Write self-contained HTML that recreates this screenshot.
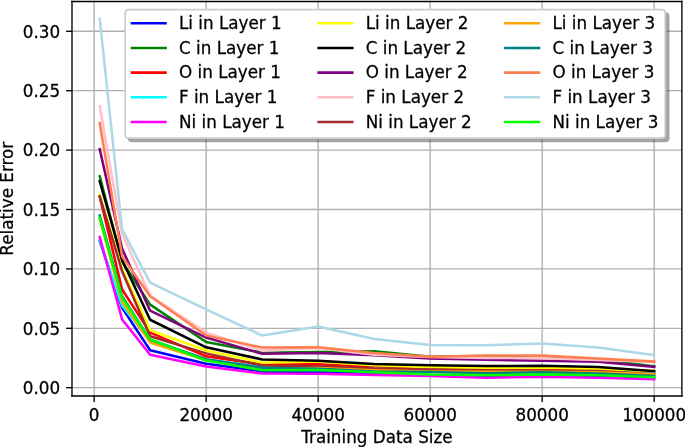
<!DOCTYPE html>
<html><head><meta charset="utf-8"><title>Relative Error vs Training Data Size</title>
<style>html,body{margin:0;padding:0;background:#fff;width:685px;height:447px;overflow:hidden}svg{display:block}text{stroke:#000;stroke-width:0.16px;paint-order:stroke}</style>
</head><body>
<svg width="685" height="447" viewBox="0 0 407.738095 266.071429" version="1.1">
 <defs>
  <style type="text/css">*{stroke-linejoin: round; stroke-linecap: butt}</style>
 </defs>
 <g id="figure_1">
  <g id="patch_1">
   <path d="M 0 266.071429 L 407.738095 266.071429 L 407.738095 0 L 0 0 z
" style="fill: #ffffff"/>
  </g>
  <g id="axes_1">
   <g id="patch_2">
    <path d="M 42.857143 235.714286 L 405.892857 235.714286 L 405.892857 0.892857 L 42.857143 0.892857 z
" style="fill: #ffffff"/>
   </g>
   <g id="matplotlib.axis_1">
    <g id="xtick_1">
     <g id="line2d_1">
      <path d="M 56.025105 235.714286 L 56.025105 0.892857 " clip-path="url(#pc5916f9c31)" style="fill: none; stroke: #b0b0b0; stroke-width: 0.8; stroke-linecap: square"/>
     </g>
     <g id="line2d_2">
      <g>
       <path d="M 0 0 L 0 3.5" transform="translate(56.025105 235.714286)" style="stroke: #000000; stroke-width: 0.8"/>
      </g>
     </g>
     <g id="text_1">
      <text style="font-size: 10px; font-family: 'DejaVu Sans', sans-serif; text-anchor: middle" x="56.025105" y="250.312723">0</text>
     </g>
    </g>
    <g id="xtick_2">
     <g id="line2d_3">
      <path d="M 122.698331 235.714286 L 122.698331 0.892857 " clip-path="url(#pc5916f9c31)" style="fill: none; stroke: #b0b0b0; stroke-width: 0.8; stroke-linecap: square"/>
     </g>
     <g id="line2d_4">
      <g>
       <path d="M 0 0 L 0 3.5" transform="translate(122.698331 235.714286)" style="stroke: #000000; stroke-width: 0.8"/>
      </g>
     </g>
     <g id="text_2">
      <text style="font-size: 10px; font-family: 'DejaVu Sans', sans-serif; text-anchor: middle" x="122.698331" y="250.312723">20000</text>
     </g>
    </g>
    <g id="xtick_3">
     <g id="line2d_5">
      <path d="M 189.371556 235.714286 L 189.371556 0.892857 " clip-path="url(#pc5916f9c31)" style="fill: none; stroke: #b0b0b0; stroke-width: 0.8; stroke-linecap: square"/>
     </g>
     <g id="line2d_6">
      <g>
       <path d="M 0 0 L 0 3.5" transform="translate(189.371556 235.714286)" style="stroke: #000000; stroke-width: 0.8"/>
      </g>
     </g>
     <g id="text_3">
      <text style="font-size: 10px; font-family: 'DejaVu Sans', sans-serif; text-anchor: middle" x="189.371556" y="250.312723">40000</text>
     </g>
    </g>
    <g id="xtick_4">
     <g id="line2d_7">
      <path d="M 256.044782 235.714286 L 256.044782 0.892857 " clip-path="url(#pc5916f9c31)" style="fill: none; stroke: #b0b0b0; stroke-width: 0.8; stroke-linecap: square"/>
     </g>
     <g id="line2d_8">
      <g>
       <path d="M 0 0 L 0 3.5" transform="translate(256.044782 235.714286)" style="stroke: #000000; stroke-width: 0.8"/>
      </g>
     </g>
     <g id="text_4">
      <text style="font-size: 10px; font-family: 'DejaVu Sans', sans-serif; text-anchor: middle" x="256.044782" y="250.312723">60000</text>
     </g>
    </g>
    <g id="xtick_5">
     <g id="line2d_9">
      <path d="M 322.718008 235.714286 L 322.718008 0.892857 " clip-path="url(#pc5916f9c31)" style="fill: none; stroke: #b0b0b0; stroke-width: 0.8; stroke-linecap: square"/>
     </g>
     <g id="line2d_10">
      <g>
       <path d="M 0 0 L 0 3.5" transform="translate(322.718008 235.714286)" style="stroke: #000000; stroke-width: 0.8"/>
      </g>
     </g>
     <g id="text_5">
      <text style="font-size: 10px; font-family: 'DejaVu Sans', sans-serif; text-anchor: middle" x="322.718008" y="250.312723">80000</text>
     </g>
    </g>
    <g id="xtick_6">
     <g id="line2d_11">
      <path d="M 389.391234 235.714286 L 389.391234 0.892857 " clip-path="url(#pc5916f9c31)" style="fill: none; stroke: #b0b0b0; stroke-width: 0.8; stroke-linecap: square"/>
     </g>
     <g id="line2d_12">
      <g>
       <path d="M 0 0 L 0 3.5" transform="translate(389.391234 235.714286)" style="stroke: #000000; stroke-width: 0.8"/>
      </g>
     </g>
     <g id="text_6">
      <text style="font-size: 10px; font-family: 'DejaVu Sans', sans-serif; text-anchor: middle" x="389.391234" y="250.312723">100000</text>
     </g>
    </g>
    <g id="text_7">
     <text style="font-size: 10px; font-family: 'DejaVu Sans', sans-serif; text-anchor: middle" x="224.375" y="263.990848">Training Data Size</text>
    </g>
   </g>
   <g id="matplotlib.axis_2">
    <g id="ytick_1">
     <g id="line2d_13">
      <path d="M 42.857143 230.773423 L 405.892857 230.773423 " clip-path="url(#pc5916f9c31)" style="fill: none; stroke: #b0b0b0; stroke-width: 0.8; stroke-linecap: square"/>
     </g>
     <g id="line2d_14">
      <g>
       <path d="M 0 0 L -3.5 0" transform="translate(42.857143 230.773423)" style="stroke: #000000; stroke-width: 0.8"/>
      </g>
     </g>
     <g id="text_8">
      <text style="font-size: 10px; font-family: 'DejaVu Sans', sans-serif; text-anchor: end" x="35.857143" y="234.572642">0.00</text>
     </g>
    </g>
    <g id="ytick_2">
     <g id="line2d_15">
      <path d="M 42.857143 195.415886 L 405.892857 195.415886 " clip-path="url(#pc5916f9c31)" style="fill: none; stroke: #b0b0b0; stroke-width: 0.8; stroke-linecap: square"/>
     </g>
     <g id="line2d_16">
      <g>
       <path d="M 0 0 L -3.5 0" transform="translate(42.857143 195.415886)" style="stroke: #000000; stroke-width: 0.8"/>
      </g>
     </g>
     <g id="text_9">
      <text style="font-size: 10px; font-family: 'DejaVu Sans', sans-serif; text-anchor: end" x="35.857143" y="199.215105">0.05</text>
     </g>
    </g>
    <g id="ytick_3">
     <g id="line2d_17">
      <path d="M 42.857143 160.058348 L 405.892857 160.058348 " clip-path="url(#pc5916f9c31)" style="fill: none; stroke: #b0b0b0; stroke-width: 0.8; stroke-linecap: square"/>
     </g>
     <g id="line2d_18">
      <g>
       <path d="M 0 0 L -3.5 0" transform="translate(42.857143 160.058348)" style="stroke: #000000; stroke-width: 0.8"/>
      </g>
     </g>
     <g id="text_10">
      <text style="font-size: 10px; font-family: 'DejaVu Sans', sans-serif; text-anchor: end" x="35.857143" y="163.857567">0.10</text>
     </g>
    </g>
    <g id="ytick_4">
     <g id="line2d_19">
      <path d="M 42.857143 124.700811 L 405.892857 124.700811 " clip-path="url(#pc5916f9c31)" style="fill: none; stroke: #b0b0b0; stroke-width: 0.8; stroke-linecap: square"/>
     </g>
     <g id="line2d_20">
      <g>
       <path d="M 0 0 L -3.5 0" transform="translate(42.857143 124.700811)" style="stroke: #000000; stroke-width: 0.8"/>
      </g>
     </g>
     <g id="text_11">
      <text style="font-size: 10px; font-family: 'DejaVu Sans', sans-serif; text-anchor: end" x="35.857143" y="128.500029">0.15</text>
     </g>
    </g>
    <g id="ytick_5">
     <g id="line2d_21">
      <path d="M 42.857143 89.343273 L 405.892857 89.343273 " clip-path="url(#pc5916f9c31)" style="fill: none; stroke: #b0b0b0; stroke-width: 0.8; stroke-linecap: square"/>
     </g>
     <g id="line2d_22">
      <g>
       <path d="M 0 0 L -3.5 0" transform="translate(42.857143 89.343273)" style="stroke: #000000; stroke-width: 0.8"/>
      </g>
     </g>
     <g id="text_12">
      <text style="font-size: 10px; font-family: 'DejaVu Sans', sans-serif; text-anchor: end" x="35.857143" y="93.142492">0.20</text>
     </g>
    </g>
    <g id="ytick_6">
     <g id="line2d_23">
      <path d="M 42.857143 53.985736 L 405.892857 53.985736 " clip-path="url(#pc5916f9c31)" style="fill: none; stroke: #b0b0b0; stroke-width: 0.8; stroke-linecap: square"/>
     </g>
     <g id="line2d_24">
      <g>
       <path d="M 0 0 L -3.5 0" transform="translate(42.857143 53.985736)" style="stroke: #000000; stroke-width: 0.8"/>
      </g>
     </g>
     <g id="text_13">
      <text style="font-size: 10px; font-family: 'DejaVu Sans', sans-serif; text-anchor: end" x="35.857143" y="57.784954">0.25</text>
     </g>
    </g>
    <g id="ytick_7">
     <g id="line2d_25">
      <path d="M 42.857143 18.628198 L 405.892857 18.628198 " clip-path="url(#pc5916f9c31)" style="fill: none; stroke: #b0b0b0; stroke-width: 0.8; stroke-linecap: square"/>
     </g>
     <g id="line2d_26">
      <g>
       <path d="M 0 0 L -3.5 0" transform="translate(42.857143 18.628198)" style="stroke: #000000; stroke-width: 0.8"/>
      </g>
     </g>
     <g id="text_14">
      <text style="font-size: 10px; font-family: 'DejaVu Sans', sans-serif; text-anchor: end" x="35.857143" y="22.427417">0.30</text>
     </g>
    </g>
    <g id="text_15">
     <text style="font-size: 10px; font-family: 'DejaVu Sans', sans-serif; text-anchor: middle" x="7.51183" y="118.303571" transform="rotate(-90 7.51183 118.303571)">Relative Error</text>
    </g>
   </g>
   <g id="line2d_27">
    <path d="M 59.358766 143.440306 L 72.693411 183.252893 L 89.361718 208.498175 L 122.698331 216.488978 L 156.034944 221.085458 L 189.371556 221.651179 L 222.708169 222.49976 L 256.044782 223.419056 L 289.381395 224.267637 L 322.718008 223.772631 L 356.054621 224.338352 L 389.391234 225.045502 " clip-path="url(#pc5916f9c31)" style="fill: none; stroke: #0000ff; stroke-width: 1.5; stroke-linecap: square"/>
   </g>
   <g id="line2d_28">
    <path d="M 59.358766 104.90059 L 72.693411 155.815444 L 89.361718 181.343586 L 122.698331 203.548119 L 156.034944 209.912476 L 189.371556 209.558901 L 222.708169 209.13461 L 256.044782 212.316789 L 289.381395 211.892498 L 322.718008 212.175359 L 356.054621 213.87252 L 389.391234 218.04471 " clip-path="url(#pc5916f9c31)" style="fill: none; stroke: #008000; stroke-width: 1.5; stroke-linecap: square"/>
   </g>
   <g id="line2d_29">
    <path d="M 59.358766 116.922152 L 72.693411 172.292056 L 89.361718 197.961629 L 122.698331 212.104644 L 156.034944 216.983984 L 189.371556 216.842554 L 222.708169 218.539715 L 256.044782 219.529726 L 289.381395 220.166162 L 322.718008 220.236877 L 356.054621 220.590453 L 389.391234 222.287614 " clip-path="url(#pc5916f9c31)" style="fill: none; stroke: #ff0000; stroke-width: 1.5; stroke-linecap: square"/>
   </g>
   <g id="line2d_30">
    <path d="M 59.358766 143.08673 L 72.693411 181.980022 L 89.361718 202.840969 L 122.698331 214.155381 L 156.034944 218.256855 L 189.371556 219.105436 L 222.708169 219.459011 L 256.044782 220.095447 L 289.381395 221.014743 L 322.718008 221.085458 L 356.054621 221.297603 L 389.391234 222.004754 " clip-path="url(#pc5916f9c31)" style="fill: none; stroke: #00ffff; stroke-width: 1.5; stroke-linecap: square"/>
   </g>
   <g id="line2d_31">
    <path d="M 59.358766 141.106708 L 72.693411 190.18297 L 89.361718 211.114633 L 122.698331 218.18614 L 156.034944 222.287614 L 189.371556 222.429045 L 222.708169 223.136195 L 256.044782 223.843346 L 289.381395 224.833357 L 322.718008 224.196921 L 356.054621 224.833357 L 389.391234 225.681938 " clip-path="url(#pc5916f9c31)" style="fill: none; stroke: #ff00ff; stroke-width: 1.5; stroke-linecap: square"/>
   </g>
   <g id="line2d_32">
    <path d="M 59.358766 115.861426 L 72.693411 160.058348 L 89.361718 196.476612 L 122.698331 208.639605 L 156.034944 215.852543 L 189.371556 215.216107 L 222.708169 217.337559 L 256.044782 218.61043 L 289.381395 219.176151 L 322.718008 218.893291 L 356.054621 219.741872 L 389.391234 220.802598 " clip-path="url(#pc5916f9c31)" style="fill: none; stroke: #ffff00; stroke-width: 1.5; stroke-linecap: square"/>
   </g>
   <g id="line2d_33">
    <path d="M 59.358766 107.870623 L 72.693411 154.754718 L 89.361718 190.3244 L 122.698331 206.730298 L 156.034944 213.943236 L 189.371556 214.791816 L 222.708169 216.701123 L 256.044782 217.408274 L 289.381395 217.832565 L 322.718008 217.76185 L 356.054621 218.469 L 389.391234 220.873313 " clip-path="url(#pc5916f9c31)" style="fill: none; stroke: #000000; stroke-width: 1.5; stroke-linecap: square"/>
   </g>
   <g id="line2d_34">
    <path d="M 59.358766 88.777553 L 72.693411 148.036785 L 89.361718 184.950055 L 122.698331 200.931662 L 156.034944 210.548912 L 189.371556 210.053906 L 222.708169 211.397493 L 256.044782 213.44823 L 289.381395 214.155381 L 322.718008 214.721101 L 356.054621 215.286822 L 389.391234 218.398285 " clip-path="url(#pc5916f9c31)" style="fill: none; stroke: #800080; stroke-width: 1.5; stroke-linecap: square"/>
   </g>
   <g id="line2d_35">
    <path d="M 59.358766 63.24941 L 72.693411 139.197401 L 89.361718 175.96924 L 122.698331 197.961629 L 156.034944 208.71032 L 189.371556 207.083873 L 222.708169 211.114633 L 256.044782 212.458219 L 289.381395 213.02394 L 322.718008 213.16537 L 356.054621 214.226096 L 389.391234 215.428252 " clip-path="url(#pc5916f9c31)" style="fill: none; stroke: #ffc0cb; stroke-width: 1.5; stroke-linecap: square"/>
   </g>
   <g id="line2d_36">
    <path d="M 59.358766 116.922152 L 72.693411 161.47265 L 89.361718 200.153796 L 122.698331 210.336767 L 156.034944 217.620419 L 189.371556 218.04471 L 222.708169 219.388296 L 256.044782 219.954017 L 289.381395 220.378307 L 322.718008 220.590453 L 356.054621 220.802598 L 389.391234 222.78262 " clip-path="url(#pc5916f9c31)" style="fill: none; stroke: #a52a2a; stroke-width: 1.5; stroke-linecap: square"/>
   </g>
   <g id="line2d_37">
    <path d="M 59.358766 130.358017 L 72.693411 179.575709 L 89.361718 203.83098 L 122.698331 214.508956 L 156.034944 219.812587 L 189.371556 219.034721 L 222.708169 220.378307 L 256.044782 221.156173 L 289.381395 221.226888 L 322.718008 221.226888 L 356.054621 221.651179 L 389.391234 222.78262 " clip-path="url(#pc5916f9c31)" style="fill: none; stroke: #ffa500; stroke-width: 1.5; stroke-linecap: square"/>
   </g>
   <g id="line2d_38">
    <path d="M 59.358766 128.236564 L 72.693411 176.322816 L 89.361718 202.133818 L 122.698331 213.801805 L 156.034944 218.893291 L 189.371556 219.459011 L 222.708169 221.085458 L 256.044782 221.368318 L 289.381395 222.146184 L 322.718008 221.580464 L 356.054621 222.287614 L 389.391234 223.772631 " clip-path="url(#pc5916f9c31)" style="fill: none; stroke: #008080; stroke-width: 1.5; stroke-linecap: square"/>
   </g>
   <g id="line2d_39">
    <path d="M 59.358766 73.220236 L 72.693411 152.633265 L 89.361718 176.393531 L 122.698331 199.65879 L 156.034944 206.871728 L 189.371556 206.730298 L 222.708169 210.124621 L 256.044782 212.316789 L 289.381395 211.538923 L 322.718008 211.680353 L 356.054621 213.377515 L 389.391234 215.216107 " clip-path="url(#pc5916f9c31)" style="fill: none; stroke: #ff7f50; stroke-width: 1.5; stroke-linecap: square"/>
   </g>
   <g id="line2d_40">
    <path d="M 59.358766 11.27383 L 72.693411 136.580943 L 89.361718 168.261297 L 122.698331 184.172189 L 156.034944 199.729505 L 189.371556 194.35516 L 222.708169 201.780243 L 256.044782 205.386711 L 289.381395 205.528142 L 322.718008 204.3967 L 356.054621 206.801013 L 389.391234 211.326778 " clip-path="url(#pc5916f9c31)" style="fill: none; stroke: #add8e6; stroke-width: 1.5; stroke-linecap: square"/>
   </g>
   <g id="line2d_41">
    <path d="M 59.358766 129.650866 L 72.693411 177.171396 L 89.361718 201.992388 L 122.698331 214.579671 L 156.034944 220.378307 L 189.371556 220.236877 L 222.708169 221.509749 L 256.044782 222.853335 L 289.381395 223.419056 L 322.718008 222.92405 L 356.054621 223.419056 L 389.391234 224.550497 " clip-path="url(#pc5916f9c31)" style="fill: none; stroke: #00ff00; stroke-width: 1.5; stroke-linecap: square"/>
   </g>
   <g id="patch_3">
    <path d="M 42.857143 235.714286 L 42.857143 0.892857 " style="fill: none; stroke: #000000; stroke-width: 0.8; stroke-linejoin: miter; stroke-linecap: square"/>
   </g>
   <g id="patch_4">
    <path d="M 405.892857 235.714286 L 405.892857 0.892857 " style="fill: none; stroke: #000000; stroke-width: 0.8; stroke-linejoin: miter; stroke-linecap: square"/>
   </g>
   <g id="patch_5">
    <path d="M 42.857143 235.714286 L 405.892857 235.714286 " style="fill: none; stroke: #000000; stroke-width: 0.8; stroke-linejoin: miter; stroke-linecap: square"/>
   </g>
   <g id="patch_6">
    <path d="M 42.857143 0.892857 L 405.892857 0.892857 " style="fill: none; stroke: #000000; stroke-width: 0.8; stroke-linejoin: miter; stroke-linecap: square"/>
   </g>
   <g id="legend_1">
    <g id="patch_7">
     <path d="M 78.52381 84.164435 L 395.987872 84.164435 Q 397.987872 84.164435 397.987872 82.164435 L 397.987872 9.77381 Q 397.987872 7.77381 395.987872 7.77381 L 78.52381 7.77381 Q 76.52381 7.77381 76.52381 9.77381 L 76.52381 82.164435 Q 76.52381 84.164435 78.52381 84.164435 z
" style="fill: #4d4d4d; opacity: 0.5; stroke: #4d4d4d; stroke-linejoin: miter"/>
    </g>
    <g id="patch_8">
     <path d="M 76.52381 82.164435 L 393.987872 82.164435 Q 395.987872 82.164435 395.987872 80.164435 L 395.987872 7.77381 Q 395.987872 5.77381 393.987872 5.77381 L 76.52381 5.77381 Q 74.52381 5.77381 74.52381 7.77381 L 74.52381 80.164435 Q 74.52381 82.164435 76.52381 82.164435 z
" style="fill: #ffffff; stroke: #cccccc; stroke-linejoin: miter"/>
    </g>
    <g id="line2d_42">
     <path d="M 78.52381 13.872247 L 88.52381 13.872247 L 98.52381 13.872247 " style="fill: none; stroke: #0000ff; stroke-width: 1.5; stroke-linecap: square"/>
    </g>
    <g id="text_16">
     <text style="font-size: 10px; font-family: 'DejaVu Sans', sans-serif; text-anchor: start" x="106.52381" y="17.372247">Li in Layer 1</text>
    </g>
    <g id="line2d_43">
     <path d="M 78.52381 28.550372 L 88.52381 28.550372 L 98.52381 28.550372 " style="fill: none; stroke: #008000; stroke-width: 1.5; stroke-linecap: square"/>
    </g>
    <g id="text_17">
     <text style="font-size: 10px; font-family: 'DejaVu Sans', sans-serif; text-anchor: start" x="106.52381" y="32.050372">C in Layer 1</text>
    </g>
    <g id="line2d_44">
     <path d="M 78.52381 43.228497 L 88.52381 43.228497 L 98.52381 43.228497 " style="fill: none; stroke: #ff0000; stroke-width: 1.5; stroke-linecap: square"/>
    </g>
    <g id="text_18">
     <text style="font-size: 10px; font-family: 'DejaVu Sans', sans-serif; text-anchor: start" x="106.52381" y="46.728497">O in Layer 1</text>
    </g>
    <g id="line2d_45">
     <path d="M 78.52381 57.906622 L 88.52381 57.906622 L 98.52381 57.906622 " style="fill: none; stroke: #00ffff; stroke-width: 1.5; stroke-linecap: square"/>
    </g>
    <g id="text_19">
     <text style="font-size: 10px; font-family: 'DejaVu Sans', sans-serif; text-anchor: start" x="106.52381" y="61.406622">F in Layer 1</text>
    </g>
    <g id="line2d_46">
     <path d="M 78.52381 72.584747 L 88.52381 72.584747 L 98.52381 72.584747 " style="fill: none; stroke: #ff00ff; stroke-width: 1.5; stroke-linecap: square"/>
    </g>
    <g id="text_20">
     <text style="font-size: 10px; font-family: 'DejaVu Sans', sans-serif; text-anchor: start" x="106.52381" y="76.084747">Ni in Layer 1</text>
    </g>
    <g id="line2d_47">
     <path d="M 189.678497 13.872247 L 199.678497 13.872247 L 209.678497 13.872247 " style="fill: none; stroke: #ffff00; stroke-width: 1.5; stroke-linecap: square"/>
    </g>
    <g id="text_21">
     <text style="font-size: 10px; font-family: 'DejaVu Sans', sans-serif; text-anchor: start" x="217.678497" y="17.372247">Li in Layer 2</text>
    </g>
    <g id="line2d_48">
     <path d="M 189.678497 28.550372 L 199.678497 28.550372 L 209.678497 28.550372 " style="fill: none; stroke: #000000; stroke-width: 1.5; stroke-linecap: square"/>
    </g>
    <g id="text_22">
     <text style="font-size: 10px; font-family: 'DejaVu Sans', sans-serif; text-anchor: start" x="217.678497" y="32.050372">C in Layer 2</text>
    </g>
    <g id="line2d_49">
     <path d="M 189.678497 43.228497 L 199.678497 43.228497 L 209.678497 43.228497 " style="fill: none; stroke: #800080; stroke-width: 1.5; stroke-linecap: square"/>
    </g>
    <g id="text_23">
     <text style="font-size: 10px; font-family: 'DejaVu Sans', sans-serif; text-anchor: start" x="217.678497" y="46.728497">O in Layer 2</text>
    </g>
    <g id="line2d_50">
     <path d="M 189.678497 57.906622 L 199.678497 57.906622 L 209.678497 57.906622 " style="fill: none; stroke: #ffc0cb; stroke-width: 1.5; stroke-linecap: square"/>
    </g>
    <g id="text_24">
     <text style="font-size: 10px; font-family: 'DejaVu Sans', sans-serif; text-anchor: start" x="217.678497" y="61.406622">F in Layer 2</text>
    </g>
    <g id="line2d_51">
     <path d="M 189.678497 72.584747 L 199.678497 72.584747 L 209.678497 72.584747 " style="fill: none; stroke: #a52a2a; stroke-width: 1.5; stroke-linecap: square"/>
    </g>
    <g id="text_25">
     <text style="font-size: 10px; font-family: 'DejaVu Sans', sans-serif; text-anchor: start" x="217.678497" y="76.084747">Ni in Layer 2</text>
    </g>
    <g id="line2d_52">
     <path d="M 300.833185 13.872247 L 310.833185 13.872247 L 320.833185 13.872247 " style="fill: none; stroke: #ffa500; stroke-width: 1.5; stroke-linecap: square"/>
    </g>
    <g id="text_26">
     <text style="font-size: 10px; font-family: 'DejaVu Sans', sans-serif; text-anchor: start" x="328.833185" y="17.372247">Li in Layer 3</text>
    </g>
    <g id="line2d_53">
     <path d="M 300.833185 28.550372 L 310.833185 28.550372 L 320.833185 28.550372 " style="fill: none; stroke: #008080; stroke-width: 1.5; stroke-linecap: square"/>
    </g>
    <g id="text_27">
     <text style="font-size: 10px; font-family: 'DejaVu Sans', sans-serif; text-anchor: start" x="328.833185" y="32.050372">C in Layer 3</text>
    </g>
    <g id="line2d_54">
     <path d="M 300.833185 43.228497 L 310.833185 43.228497 L 320.833185 43.228497 " style="fill: none; stroke: #ff7f50; stroke-width: 1.5; stroke-linecap: square"/>
    </g>
    <g id="text_28">
     <text style="font-size: 10px; font-family: 'DejaVu Sans', sans-serif; text-anchor: start" x="328.833185" y="46.728497">O in Layer 3</text>
    </g>
    <g id="line2d_55">
     <path d="M 300.833185 57.906622 L 310.833185 57.906622 L 320.833185 57.906622 " style="fill: none; stroke: #add8e6; stroke-width: 1.5; stroke-linecap: square"/>
    </g>
    <g id="text_29">
     <text style="font-size: 10px; font-family: 'DejaVu Sans', sans-serif; text-anchor: start" x="328.833185" y="61.406622">F in Layer 3</text>
    </g>
    <g id="line2d_56">
     <path d="M 300.833185 72.584747 L 310.833185 72.584747 L 320.833185 72.584747 " style="fill: none; stroke: #00ff00; stroke-width: 1.5; stroke-linecap: square"/>
    </g>
    <g id="text_30">
     <text style="font-size: 10px; font-family: 'DejaVu Sans', sans-serif; text-anchor: start" x="328.833185" y="76.084747">Ni in Layer 3</text>
    </g>
   </g>
  </g>
 </g>
 <defs>
  <clipPath id="pc5916f9c31">
   <rect x="42.857143" y="0.892857" width="363.035714" height="234.821429"/>
  </clipPath>
 </defs>
</svg>

</body></html>
